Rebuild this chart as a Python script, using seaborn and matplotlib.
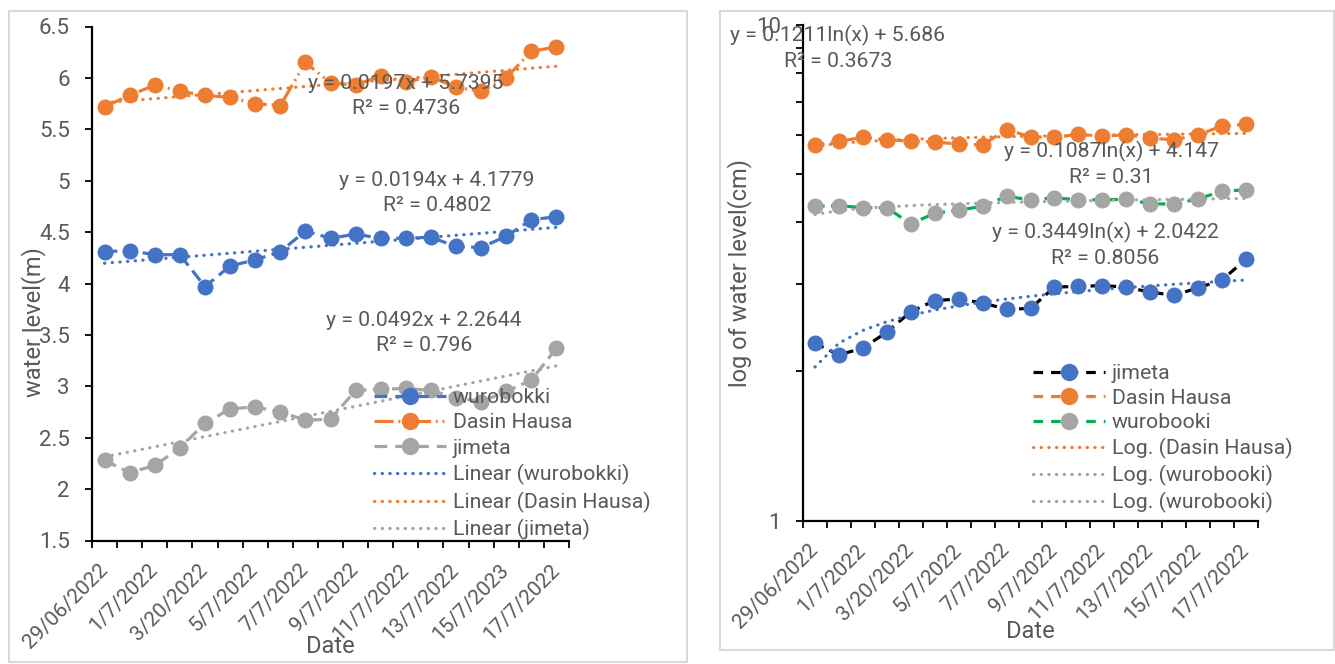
import numpy as np
import pandas as pd
import matplotlib
matplotlib.use("Agg")
import matplotlib.pyplot as plt
from matplotlib.lines import Line2D
from matplotlib.patches import Rectangle
from matplotlib.ticker import FixedLocator, FixedFormatter, NullFormatter
import seaborn as sns

# ---------------- data ----------------
dates_left = ["29/06/2022", "30/06/2022", "1/7/2022", "2/7/2022", "3/20/2022", "4/7/2022",
              "5/7/2022", "6/7/2022", "7/7/2022", "8/7/2022", "9/7/2022", "10/7/2022",
              "11/7/2022", "12/7/2022", "13/7/2022", "14/7/2022", "15/7/2023", "16/7/2022",
              "17/7/2022"]
dates_right = ["29/06/2022", "30/06/2022", "1/7/2022", "2/7/2022", "3/20/2022", "4/7/2022",
               "5/7/2022", "6/7/2022", "7/7/2022", "8/7/2022", "9/7/2022", "10/7/2022",
               "11/7/2022", "12/7/2022", "13/7/2022", "14/7/2022", "15/7/2022", "16/7/2022",
               "17/7/2022"]

dasin_hausa = [5.72, 5.83, 5.93, 5.87, 5.83, 5.81, 5.75, 5.73, 6.15, 5.95,
               5.93, 6.02, 5.96, 6.01, 5.91, 5.87, 6.00, 6.26, 6.30]
wurobokki = [4.31, 4.32, 4.28, 4.28, 3.97, 4.17, 4.23, 4.31, 4.51, 4.44,
             4.48, 4.44, 4.44, 4.45, 4.36, 4.35, 4.46, 4.62, 4.65]
jimeta = [2.28, 2.16, 2.23, 2.40, 2.64, 2.78, 2.80, 2.75, 2.67, 2.68,
          2.96, 2.97, 2.98, 2.96, 2.89, 2.85, 2.95, 3.06, 3.37]

# trendline coefficients as printed on the chart
lin_slope_dasin, lin_int_dasin = 0.0197, 5.7395
lin_slope_wuro, lin_int_wuro = 0.0194, 4.1779
lin_slope_jim, lin_int_jim = 0.0492, 2.2644
log_slope_dasin, log_int_dasin = 0.1211, 5.686
log_slope_wuro, log_int_wuro = 0.1087, 4.147
log_slope_jim, log_int_jim = 0.3449, 2.0422

left_eqs = ["y = 0.0197x + 5.7395\nR² = 0.4736",
            "y = 0.0194x + 4.1779\nR² = 0.4802",
            "y = 0.0492x + 2.2644\nR² = 0.796"]
right_eqs = ["y = 0.1211ln(x) + 5.686\nR² = 0.3673",
             "y = 0.1087ln(x) + 4.147\nR² = 0.31",
             "y = 0.3449ln(x) + 2.0422\nR² = 0.8056"]

# ---------------- style ----------------
sns.set_style("white")
plt.rcParams['font.family'] = ['Roboto', 'DejaVu Sans']

BLUE = "#4472C4"
ORANGE = "#ED7D31"
GREY = "#A5A5A5"
GREEN = "#00B050"
TXT = "#595959"
FS = 15.3      # equations / legend
FS_XT = 15     # x tick labels
FS_YT = 16     # y tick labels
FS_AX = 17     # axis titles

W, H = 1335, 664
fig = plt.figure(figsize=(W / 100, H / 100), dpi=100)
fig.patch.set_facecolor("white")


def fx(px):
    return px / W


def fy(py):
    return 1 - py / H


# chart-area borders
for (x0, y0, x1, y1) in [(9, 11, 687, 662), (720, 11, 1334, 650)]:
    fig.patches.append(Rectangle((fx(x0), fy(y1)), fx(x1) - fx(x0), fy(y0) - fy(y1),
                                 transform=fig.transFigure, fill=False,
                                 edgecolor="#D9D9D9", linewidth=1.5, zorder=0))

n = len(dates_left)
xpos = np.arange(n)
xt = xpos + 1.0

MS = 11.5
DASH = (0, (4, 2))
DASHDOT = (0, (6, 1.5, 0.6, 1.5, 0.6, 1.5))
DOT = (0, (0.1, 2.3))


def series(ax, y, lc, mc, ls, z=3):
    sns.lineplot(x=xpos, y=y, ax=ax, color=lc, linestyle=ls, linewidth=2.3,
                 marker='o', markersize=MS, markerfacecolor=mc, markeredgecolor=mc,
                 markeredgewidth=0, legend=False, zorder=z, errorbar=None)


def trend(ax, y, c):
    sns.lineplot(x=xpos, y=y, ax=ax, color=c, linestyle=DOT, linewidth=2.3,
                 dash_capstyle='round', legend=False, zorder=4, errorbar=None)


def style_axes(ax, labels):
    for s in ["top", "right"]:
        ax.spines[s].set_visible(False)
    for s in ["left", "bottom"]:
        ax.spines[s].set_color("black")
        ax.spines[s].set_linewidth(1.6)
    ax.set_xlim(-0.5, n - 0.5)
    ax.xaxis.set_major_locator(FixedLocator(np.arange(-0.5, n, 1.0)))
    ax.xaxis.set_major_formatter(NullFormatter())
    lab_pos = xpos[::2]
    ax.xaxis.set_minor_locator(FixedLocator(lab_pos))
    ax.xaxis.set_minor_formatter(FixedFormatter([labels[i] for i in lab_pos]))
    ax.tick_params(axis='x', which='major', direction='out', length=5, width=1.3,
                   color='black', bottom=True)
    ax.tick_params(axis='x', which='minor', length=0, pad=19, labelsize=FS_XT,
                   labelcolor=TXT, bottom=True)
    for t in ax.xaxis.get_minorticklabels():
        t.set_rotation(45)
        t.set_ha('right')
        t.set_va('center')
        t.set_rotation_mode('anchor')
    ax.tick_params(axis='y', which='both', direction='out', length=5, width=1.3,
                   color='black', labelsize=FS_YT, labelcolor=TXT, pad=11, left=True)
    ax.grid(False)
    ax.set_facecolor("none")


def make_legend(handles, labels, x, y, spacing):
    leg = fig.legend(handles, labels, loc='upper left', bbox_to_anchor=(fx(x), fy(y)),
                     bbox_transform=fig.transFigure, frameon=False, fontsize=FS,
                     handlelength=3.4, handletextpad=0.3, labelspacing=spacing,
                     borderpad=0, borderaxespad=0, numpoints=1)
    for t in leg.get_texts():
        t.set_color(TXT)
    return leg


# ---------------- left chart ----------------
axL = fig.add_axes([fx(92), fy(540.5), fx(569) - fx(92), fy(26.5) - fy(540.5)])
series(axL, wurobokki, BLUE, BLUE, DASH)
series(axL, dasin_hausa, ORANGE, ORANGE, DASHDOT)
series(axL, jimeta, GREY, GREY, DASH)
trend(axL, lin_slope_wuro * xt + lin_int_wuro, BLUE)
trend(axL, lin_slope_dasin * xt + lin_int_dasin, ORANGE)
trend(axL, lin_slope_jim * xt + lin_int_jim, GREY)
axL.set_ylim(1.5, 6.5)
axL.set_yticks(np.arange(1.5, 6.51, 0.5))
axL.set_yticklabels(["1.5", "2", "2.5", "3", "3.5", "4", "4.5", "5", "5.5", "6", "6.5"])
style_axes(axL, dates_left)
axL.set_xlabel("Date", fontsize=FS_AX, color=TXT)
axL.set_ylabel("water level(m)", fontsize=FS_AX, color=TXT)
axL.xaxis.set_label_coords(0.499, -0.183)
axL.yaxis.set_label_coords(-0.097, 0.425)

for txt, (cx, cy) in zip(left_eqs, [(406, 96), (437, 193), (424, 333)]):
    fig.text(fx(cx), fy(cy), txt, ha='center', va='center', fontsize=FS, color=TXT,
             linespacing=1.35, zorder=10)

hL = [
    Line2D([], [], color=BLUE, ls=(0, (4, 2.5)), lw=2.3, marker='o', ms=MS, mec=BLUE, mfc=BLUE),
    Line2D([], [], color=ORANGE, ls=DASHDOT, lw=2.3, marker='o', ms=MS, mec=ORANGE, mfc=ORANGE),
    Line2D([], [], color=GREY, ls=(0, (4, 2.5)), lw=2.3, marker='o', ms=MS, mec=GREY, mfc=GREY),
    Line2D([], [], color=BLUE, ls=DOT, lw=2.3, dash_capstyle='round'),
    Line2D([], [], color=ORANGE, ls=DOT, lw=2.3, dash_capstyle='round'),
    Line2D([], [], color=GREY, ls=DOT, lw=2.3, dash_capstyle='round'),
]
labL = ["wurobokki", "Dasin Hausa", "jimeta", "Linear (wurobokki)",
        "Linear (Dasin Hausa)", "Linear (jimeta)"]
make_legend(hL, labL, 374, 388, 0.30)

# ---------------- right chart ----------------
axR = fig.add_axes([fx(803), fy(520.7), fx(1258) - fx(803), fy(25) - fy(520.7)])
series(axR, jimeta, "black", BLUE, (0, (3, 2)))
series(axR, dasin_hausa, ORANGE, ORANGE, (0, (3, 2)))
series(axR, wurobokki, GREEN, GREY, (0, (3, 2)))
trend(axR, log_slope_dasin * np.log(xt) + log_int_dasin, ORANGE)
trend(axR, log_slope_wuro * np.log(xt) + log_int_wuro, GREY)
trend(axR, log_slope_jim * np.log(xt) + log_int_jim, BLUE)
axR.set_yscale('log')
axR.set_ylim(1, 10)
axR.yaxis.set_major_locator(FixedLocator([1, 10]))
axR.yaxis.set_major_formatter(FixedFormatter(["1", "10"]))
axR.yaxis.set_minor_locator(FixedLocator([2, 3, 4, 5, 6, 7, 8, 9]))
axR.yaxis.set_minor_formatter(NullFormatter())
style_axes(axR, dates_right)
axR.set_xlabel("Date", fontsize=FS_AX, color=TXT)
axR.set_ylabel("log of water level(cm)", fontsize=FS_AX, color=TXT)
axR.xaxis.set_label_coords(0.499, -0.2)
axR.yaxis.set_label_coords(-0.112, 0.5)

for txt, (cx, cy) in zip(right_eqs, [(838, 48), (1111, 164), (1105, 245)]):
    fig.text(fx(cx), fy(cy), txt, ha='center', va='center', fontsize=FS, color=TXT,
             linespacing=1.35, zorder=10)

hR = [
    Line2D([], [], color="black", ls=(0, (3, 2.5)), lw=2.3, marker='o', ms=MS, mec=BLUE, mfc=BLUE),
    Line2D([], [], color=ORANGE, ls=(0, (3, 2.5)), lw=2.3, marker='o', ms=MS, mec=ORANGE, mfc=ORANGE),
    Line2D([], [], color=GREEN, ls=(0, (3, 2.5)), lw=2.3, marker='o', ms=MS, mec=GREY, mfc=GREY),
    Line2D([], [], color=ORANGE, ls=DOT, lw=2.3, dash_capstyle='round'),
    Line2D([], [], color=GREY, ls=DOT, lw=2.3, dash_capstyle='round'),
    Line2D([], [], color=GREY, ls=DOT, lw=2.3, dash_capstyle='round'),
]
labR = ["jimeta", "Dasin Hausa", "wurobooki", "Log. (Dasin Hausa)",
        "Log. (wurobooki)", "Log. (wurobooki)"]
make_legend(hR, labR, 1033, 364, 0.27)

fig.savefig("out.png", dpi=100, facecolor="white")
